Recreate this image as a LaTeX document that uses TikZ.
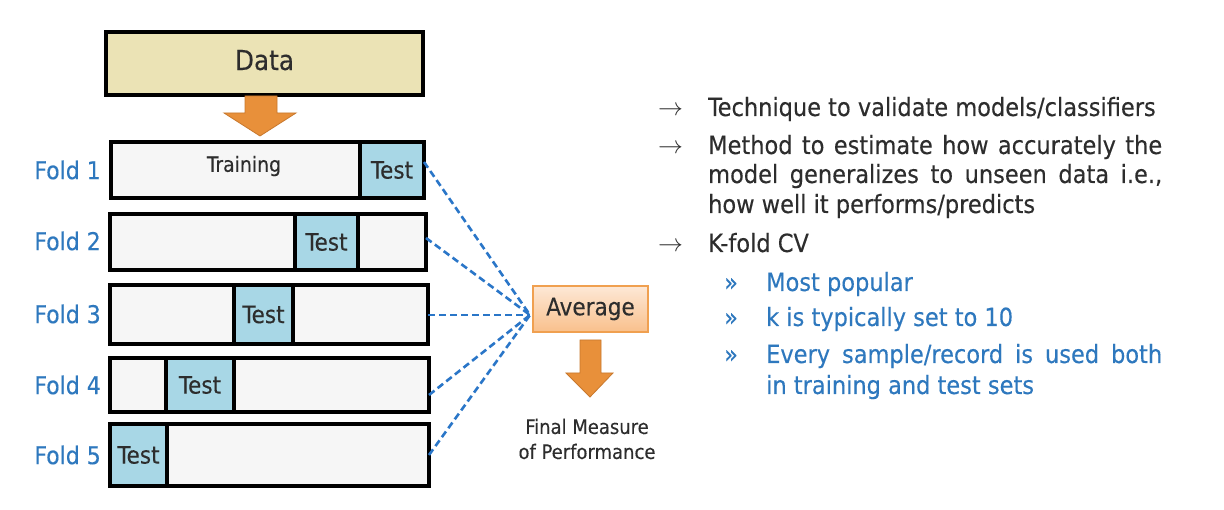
\documentclass[tikz,border=0pt]{standalone}
\usepackage{fontspec}
\setmainfont{DejaVu Sans Condensed}[FakeBold=0.25]
\usetikzlibrary{calc}
\definecolor{databg}{RGB}{235,227,181}
\definecolor{trainbg}{RGB}{246,246,246}
\definecolor{testbg}{RGB}{168,215,230}
\definecolor{foldblue}{RGB}{46,120,190}
\definecolor{dashblue}{RGB}{42,118,200}
\definecolor{orangefill}{RGB}{232,144,58}
\definecolor{orangeedge}{RGB}{200,120,45}
\definecolor{avgtop}{RGB}{253,232,214}
\definecolor{avgbot}{RGB}{249,192,140}
\definecolor{avgedge}{RGB}{240,160,80}
\definecolor{txtgray}{RGB}{45,45,45}
\newcommand{\fsz}[1]{\fontsize{#1}{#1}\selectfont}
\begin{document}
\begin{tikzpicture}[x=1pt,y=-1pt,
  boxbase/.style={draw=black, line width=4pt, inner sep=0pt, outer sep=0pt},
  databox/.style={boxbase, fill=databg, text=txtgray, font=\fsz{27.5}},
  foldbox/.style={boxbase, fill=trainbg},
  testbox/.style={boxbase, fill=testbg, text=txtgray, font=\fsz{24}},
  foldlabel/.style={anchor=east, inner sep=0pt, text=foldblue, font=\fsz{24.5}},
  trainlabel/.style={inner sep=0pt, text=txtgray, font=\fsz{21}},
  avgbox/.style={draw=avgedge, line width=1.5pt, top color=avgtop, bottom color=avgbot, text=txtgray, font=\fsz{24}, inner sep=0pt, outer sep=0pt},
  blockarrow/.style={fill=orangefill, draw=orangeedge, line width=0.8pt, line join=miter},
  dashlink/.style={draw=dashblue, line width=2.6pt, dash pattern=on 7pt off 4pt},
  measure/.style={text=txtgray, font=\fsz{20}, align=center, inner sep=0pt},
  mainline/.style={anchor=base west, inner sep=0pt, text=txtgray, font=\fsz{25}},
  subline/.style={anchor=base west, inner sep=0pt, text=foldblue, font=\fsz{25}},
  arrowmark/.style={anchor=base west, inner sep=0pt, text=txtgray, font=\fsz{24}},
  submark/.style={anchor=base west, inner sep=0pt, text=foldblue, font=\fsz{25}}
]
\useasboundingbox (0,0) rectangle (1224,510);
\fill[white] (0,0) rectangle (1224,510);

% Data box
\node[databox, minimum width=317pt, minimum height=63pt] (data) at (264.5,63.5) {\raisebox{7pt}{Data}};

% orange arrow from data to folds
\path[blockarrow] (245,96) -- (277,96) -- (277,113) -- (296,113) -- (260,136) -- (224,113) -- (245,113) -- cycle;

% folds
\node[foldbox, minimum width=313pt, minimum height=56pt] (f1) at (267.5,170) {};
\node[foldbox, minimum width=316pt, minimum height=56pt] (f2) at (268,242) {};
\node[foldbox, minimum width=318pt, minimum height=59pt] (f3) at (269,314.5) {};
\node[foldbox, minimum width=319pt, minimum height=54pt] (f4) at (269.5,385) {};
\node[foldbox, minimum width=319pt, minimum height=62pt] (f5) at (269.5,455) {};

\node[testbox, minimum width=64pt, minimum height=56pt] (t1) at (392,170) {Test};
\node[testbox, minimum width=63pt, minimum height=56pt] (t2) at (326.5,242) {Test};
\node[testbox, minimum width=59pt, minimum height=59pt] (t3) at (263.5,314.5) {Test};
\node[testbox, minimum width=68pt, minimum height=54pt] (t4) at (200,385) {Test};
\node[testbox, minimum width=57pt, minimum height=62pt] (t5) at (138.5,455) {Test};

\node[trainlabel] (train) at (244,166) {Training};

\node[foldlabel] (l1) at (101,170) {Fold 1};
\node[foldlabel] (l2) at (101,241) {Fold 2};
\node[foldlabel] (l3) at (101,314) {Fold 3};
\node[foldlabel] (l4) at (101,385) {Fold 4};
\node[foldlabel] (l5) at (101,455) {Fold 5};

% Average
\node[avgbox, minimum width=115pt, minimum height=46pt] (avg) at (590.5,309) {Average};
\coordinate (hub) at ($(avg.west)+(-3,6)$);

\draw[dashlink] ($(f1.east)+(0,-8)$) -- (hub);
\draw[dashlink] ($(f2.east)+(0,-4)$) -- (hub);
\draw[dashlink] ($(f3.east)+(0,0.5)$) -- (hub);
\draw[dashlink] ($(f4.east)+(0,10)$) -- (hub);
\draw[dashlink] ($(f5.east)+(0,0)$) -- (hub);

% orange arrow below average
\path[blockarrow] (580,340) -- (601,340) -- (601,373) -- (613,373) -- (590,397) -- (566,373) -- (580,373) -- cycle;

\node[measure] (final) at (587,439) {Final Measure\\[5pt]of Performance};

% right text
\node[arrowmark] (a1) at (658,116) {$\rightarrow$};
\node[mainline] (m1) at (708,116) {Technique to validate models/classifiers};
\node[arrowmark] (a2) at (658,154) {$\rightarrow$};
\node[mainline] (m2) at (708,154) {\makebox[454pt][s]{Method to estimate how accurately the}};
\node[mainline] (m3) at (708,183) {\makebox[454pt][s]{model generalizes to unseen data i.e.,}};
\node[mainline] (m4) at (708,213) {how well it performs/predicts};
\node[arrowmark] (a3) at (658,252) {$\rightarrow$};
\node[mainline] (m5) at (708,252) {K-fold CV};
\node[submark] (b1) at (724,291) {»};
\node[subline] (s1) at (766,291) {Most popular};
\node[submark] (b2) at (724,326) {»};
\node[subline] (s2) at (766,326) {k is typically set to 10};
\node[submark] (b3) at (724,363) {»};
\node[subline] (s3) at (766,363) {\makebox[396pt][s]{Every sample/record is used both}};
\node[subline] (s4) at (766,394) {in training and test sets};
\end{tikzpicture}
\end{document}
